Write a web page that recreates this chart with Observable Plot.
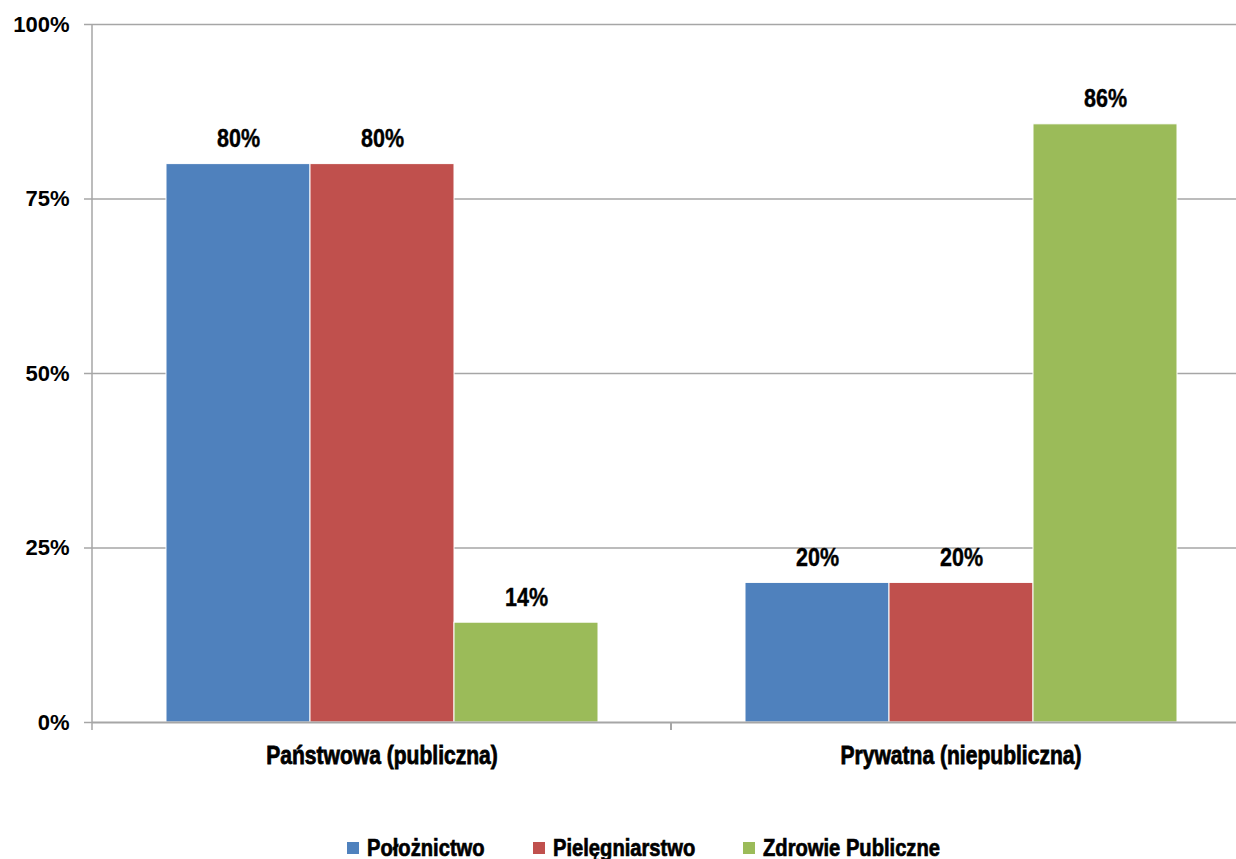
<!DOCTYPE html>
<html><head><meta charset="utf-8">
<script src="https://cdn.jsdelivr.net/npm/d3@7"></script>
<script src="https://cdn.jsdelivr.net/npm/@observablehq/plot@0.6"></script>
<style>
body{margin:0;background:#fff;overflow:hidden;width:1236px;height:859px;position:relative}
svg{max-width:none !important}
#legend{position:absolute;top:833px;left:347px;display:flex;gap:48px;white-space:nowrap;
  font-family:"Liberation Sans",Arial,sans-serif;font-weight:bold;font-size:24px;line-height:30px;color:#000}
#legend .item{display:flex;align-items:center;gap:8px}
#legend .sw{width:12px;height:12px;display:inline-block}
#legend .lab{display:inline-block;transform-origin:0 50%;-webkit-text-stroke:0.7px #000}
</style></head><body><div id="chart"></div><div id="legend"></div>
<script>
const groups = ["Państwowa (publiczna)", "Prywatna (niepubliczna)"];
const series = ["Położnictwo", "Pielęgniarstwo", "Zdrowie Publiczne"];
const colors = ["#4F81BD", "#C0504D", "#9BBB59"];
const polozValues = [0.80, 0.20];
const pielValues = [0.80, 0.20];
const zdrowieValues = [0.143, 0.857];
const yTicks = [0, 0.25, 0.5, 0.75, 1];

const seriesValues = [polozValues, pielValues, zdrowieValues];
const data = groups.flatMap((g, i) => series.map((s, j) => ({group: g, series: s, value: seriesValues[j][i]})));

const gray = "#a6a6a6";
const pct = d3.format(".0%");

const plot = Plot.plot({
  width: 1250, height: 800,
  marginLeft: 91, marginRight: 0, marginTop: 24, marginBottom: 78,
  style: {fontFamily: '"Liberation Sans",Arial,sans-serif', background: "#fff", maxWidth: "none"},
  fx: {domain: groups, padding: 0, label: null},
  x: {domain: series, paddingInner: 0, paddingOuter: 0.5, axis: null},
  y: {domain: [0, 1], axis: null},
  color: {domain: series, range: colors},
  marks: [
    Plot.gridY(yTicks.filter(d => d > 0), {stroke: gray, strokeOpacity: 1, strokeWidth: 1.5}),
    Plot.barY(data, {fx: "group", x: "series", y: "value", fill: "series", stroke: "white", strokeWidth: 1}),
    Plot.ruleY([0], {stroke: gray, strokeWidth: 2}),
    Plot.text(data, {fx: "group", x: "series", y: "value", text: d => pct(d.value), className: "dlabel",
      lineAnchor: "bottom", dy: -17, fontSize: 25, fontWeight: "bold", fill: "#000"}),
    Plot.axisY(yTicks, {tickFormat: pct, tickSize: 8, tickPadding: 15, stroke: gray, strokeWidth: 1.5,
      fontSize: 22, fontWeight: "bold", fill: "#000", label: null}),
    Plot.axisFx({anchor: "bottom", tickSize: 0, tickPadding: 23, fontSize: 26, fontWeight: "bold",
      fill: "#000", label: null})
  ]
});

// y-axis line and category separator ticks from the library's scales
const fx = plot.scale("fx"), y = plot.scale("y");
const svg = d3.select(plot);
const y0 = y.apply(0), y1 = y.apply(1);
svg.append("line").attr("x1", fx.apply(groups[0])).attr("x2", fx.apply(groups[0]))
  .attr("y1", y1).attr("y2", y0 + 8).attr("stroke", gray).attr("stroke-width", 1.5);
groups.slice(1).forEach(g => {
  const xx = fx.apply(g);
  svg.append("line").attr("x1", xx).attr("x2", xx).attr("y1", y0).attr("y2", y0 + 8)
    .attr("stroke", gray).attr("stroke-width", 2);
});

document.getElementById("chart").appendChild(plot);

// condensed heavy look: horizontally compress the bold labels and thicken strokes
function condense(sel, k, sw) {
  sel.each(function() {
    const w = this.getComputedTextLength();
    this.setAttribute("textLength", w * k);
    this.setAttribute("lengthAdjust", "spacingAndGlyphs");
    this.setAttribute("stroke", "#000");
    this.setAttribute("stroke-width", sw);
  });
}
condense(svg.selectAll('g[aria-label="fx-axis tick label"] text'), 0.81, 0.8);
condense(svg.selectAll('.dlabel text'), 0.86, 0.4);

const legend = d3.select("#legend");
series.forEach((s, i) => {
  const it = legend.append("div").attr("class", "item");
  it.append("span").attr("class", "sw").style("background", colors[i]);
  it.append("span").attr("class", "lab").text(s);
});
const kLegend = 0.84;
legend.selectAll(".lab").each(function() {
  const w = this.getBoundingClientRect().width;
  this.style.transform = `scaleX(${kLegend})`;
  this.style.marginRight = `${-w * (1 - kLegend)}px`;
});
</script></body></html>
